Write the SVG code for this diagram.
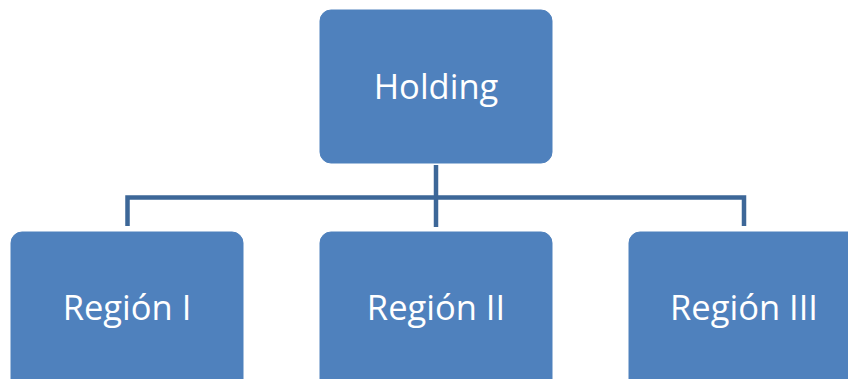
<svg xmlns="http://www.w3.org/2000/svg" width="848" height="379" viewBox="0 0 848 379">
<style>
.box{fill:#4F81BD;stroke:#4F81BD;stroke-width:1}
.lbl{fill:#FFFFFF;font-family:"Open Sans","Liberation Sans",sans-serif;font-size:34.5px;text-anchor:middle}
.conn{fill:none;stroke:#3D6798;stroke-width:4.5}
</style>
<rect width="848" height="379" fill="#FFFFFF"/>
<g id="connectors">
<line class="conn" x1="436" y1="165" x2="436" y2="227"/>
<path class="conn" d="M127.5 226 V197.5 H744 V226"/>
</g>
<g id="holding">
<rect class="box" x="320" y="10" width="232" height="153" rx="11"/>
<text class="lbl" x="436" y="99">Holding</text>
</g>
<g id="region1">
<rect class="box" x="11" y="232" width="232" height="160" rx="11"/>
<text class="lbl" x="127" y="320">Región I</text>
</g>
<g id="region2">
<rect class="box" x="320" y="232" width="232" height="160" rx="11"/>
<text class="lbl" x="436" y="320">Región II</text>
</g>
<g id="region3">
<rect class="box" x="629" y="232" width="232" height="160" rx="11"/>
<text class="lbl" x="744" y="320">Región III</text>
</g>
</svg>
